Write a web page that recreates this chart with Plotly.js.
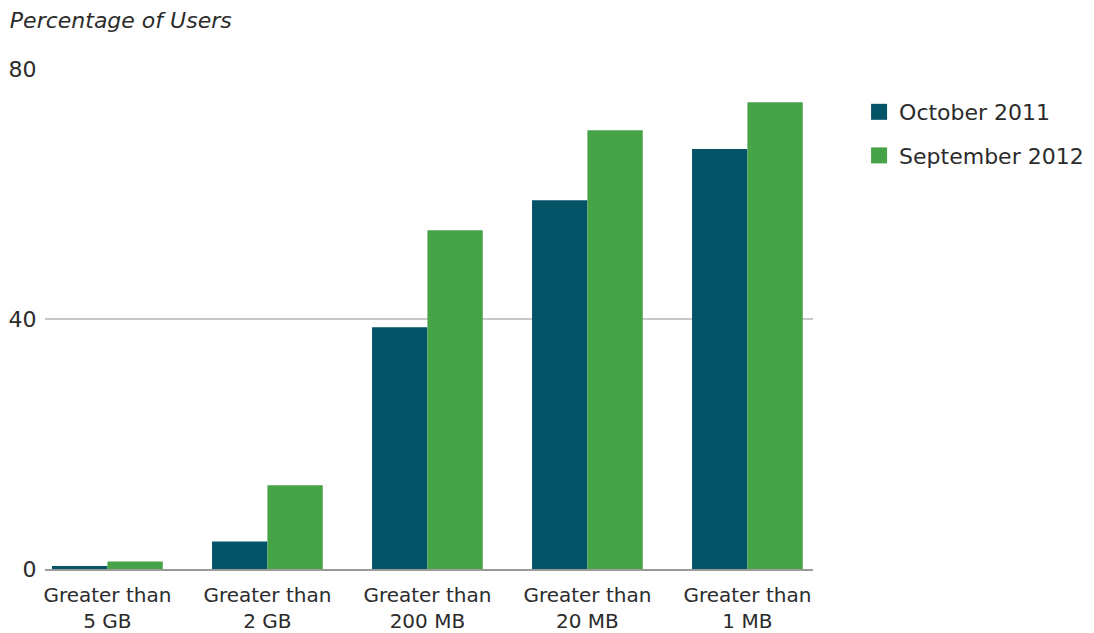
<!DOCTYPE html>
<html>
<head>
<meta charset="utf-8">
<script src="https://cdn.plot.ly/plotly-3.0.1.min.js"></script>
<style>html,body{margin:0;padding:0;background:#fff;}#chart{width:1094px;height:633px;}</style>
</head>
<body>
<div id="chart"></div>
<script>
const categories = ["Greater than<br>5 GB", "Greater than<br>2 GB", "Greater than<br>200 MB", "Greater than<br>20 MB", "Greater than<br>1 MB"];
const october2011 = [0.5, 4.4, 38.7, 59.0, 67.2];
const september2012 = [1.2, 13.4, 54.2, 70.2, 74.7];
const seriesNames = ["October 2011", "September 2012"];
const seriesColors = ["#025466", "#46a348"];
const yTicks = [0, 40, 80];

const FONT = "DejaVu Sans, Arial, sans-serif";
const TEXT = "#2b2b2b";

const traces = [
  {type: "bar", x: categories, y: october2011, name: seriesNames[0], marker: {color: seriesColors[0]}, showlegend: false, hoverinfo: "x+y"},
  {type: "bar", x: categories, y: september2012, name: seriesNames[1], marker: {color: seriesColors[1]}, showlegend: false, hoverinfo: "x+y"},
  {type: "scatter", mode: "markers", x: [null], y: [null], name: seriesNames[0], legendgroup: "a", marker: {symbol: "square", size: 16, color: seriesColors[0]}},
  {type: "scatter", mode: "markers", x: [null], y: [null], name: seriesNames[1], legendgroup: "b", marker: {symbol: "square", size: 16, color: seriesColors[1]}}
];

const layout = {
  width: 1094, height: 633,
  margin: {l: 45, r: 281, t: 69, b: 64, autoexpand: false},
  paper_bgcolor: "#fff", plot_bgcolor: "#fff",
  font: {family: FONT, size: 22, color: TEXT},
  barmode: "group",
  bargap: 0.308,
  bargroupgap: 0,
  title: {text: "<i>Percentage of Users</i>", font: {family: FONT, size: 22, color: TEXT}, xref: "container", yref: "container", x: 0.009, xanchor: "left", y: 0.968, yanchor: "middle"},
  xaxis: {
    type: "category", range: [-0.39, 4.41],
    showgrid: false, zeroline: false,
    showline: true, linecolor: "#9a9a9a", linewidth: 1.5,
    ticks: "", ticklabelstandoff: 7,
    tickfont: {family: FONT, size: 20, color: TEXT},
    fixedrange: true
  },
  yaxis: {
    range: [0, 80], tickvals: yTicks, ticktext: yTicks.map(String),
    showgrid: true, gridcolor: "#c8c8c8", gridwidth: 1.5,
    zeroline: false, showline: false,
    ticks: "outside", ticklen: 3, tickcolor: "rgba(0,0,0,0)",
    tickfont: {family: FONT, size: 22, color: TEXT},
    fixedrange: true
  },
  legend: {
    x: 1.06, xanchor: "left", y: 0.956, yanchor: "top",
    font: {family: FONT, size: 22, color: TEXT},
    traceorder: "grouped", tracegroupgap: 12,
    bgcolor: "rgba(0,0,0,0)"
  },
  showlegend: true
};

Plotly.newPlot("chart", traces, layout, {displayModeBar: false, staticPlot: true});
</script>
</body>
</html>
